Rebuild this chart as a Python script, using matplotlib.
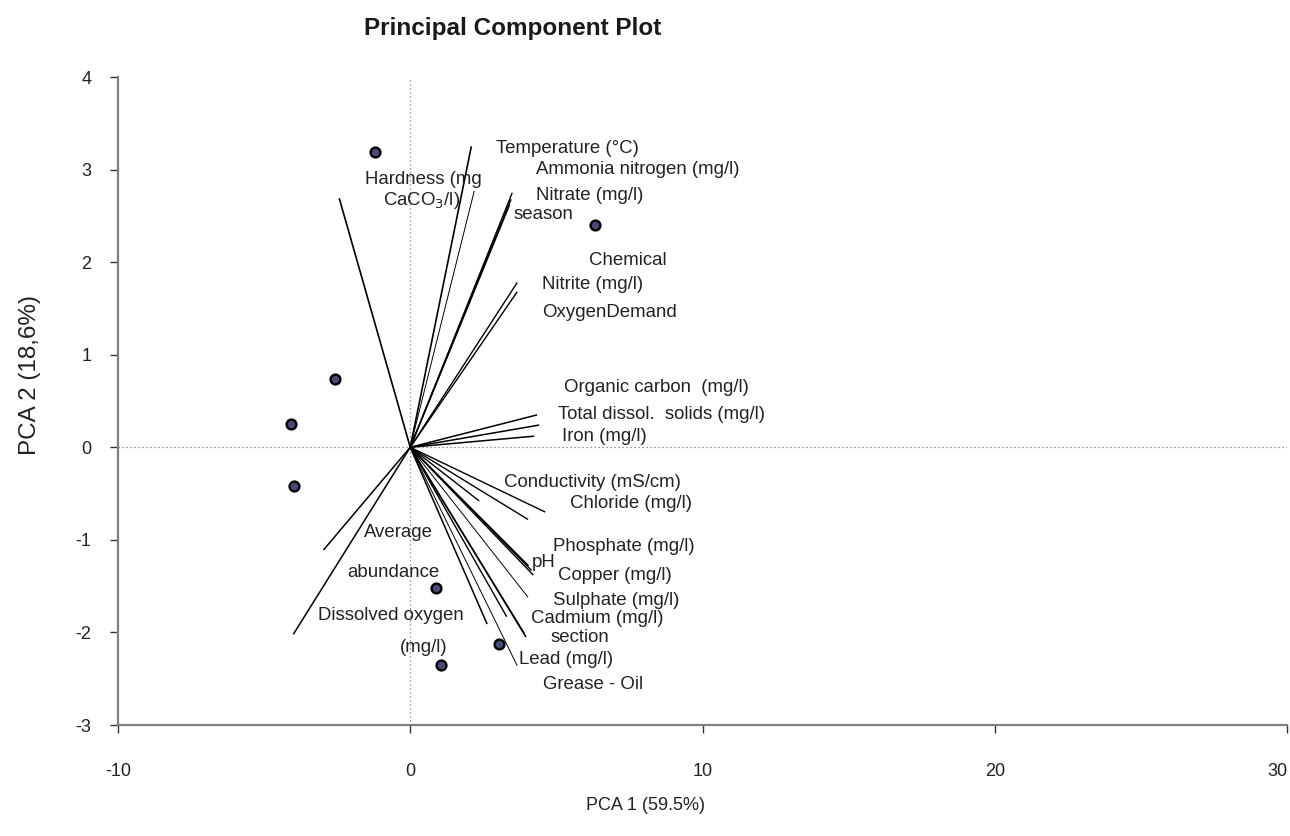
import matplotlib
matplotlib.use("Agg")
import matplotlib.pyplot as plt

plt.rcParams['font.family'] = ['Liberation Sans', 'DejaVu Sans']
plt.rcParams['axes.unicode_minus'] = False

# Loading vectors (end points, origin at 0,0)
load_x = [2.09, 2.19, -2.43, 3.49, 3.45, 3.40, 3.66, 3.66, 4.34, 4.41, 4.24,
          2.36, 4.62, 4.03, 4.05, 4.15, 4.21, 4.03, 3.30, 2.63, 3.90, 3.96,
          3.66, -2.97, -4.00]
load_y = [3.25, 2.77, 2.69, 2.75, 2.68, 2.62, 1.78, 1.68, 0.35, 0.24, 0.12,
          -0.58, -0.70, -0.78, -1.28, -1.33, -1.38, -1.62, -1.83, -1.91, -2.01,
          -2.05, -2.36, -1.11, -2.02]
load_w = [1.2, 0.7, 1.2, 1.0, 1.0, 1.0, 1.0, 1.0, 1.1, 1.1, 1.1,
          1.0, 1.0, 1.0, 1.0, 1.0, 1.0, 0.7, 1.0, 1.1, 1.0, 1.1,
          0.7, 1.1, 1.1]

# Sample scores
score_x = [-1.20, 6.32, -2.56, -4.07, -3.97, 0.89, 3.04, 1.06]
score_y = [3.19, 2.40, 0.735, 0.25, -0.42, -1.52, -2.12, -2.35]

# Variable labels and positions
labels = ["Temperature (°C)", "Ammonia nitrogen (mg/l)", "Nitrate (mg/l)", "season",
          "Hardness (mg", "CaCO$_3$/l)", "Chemical", "Nitrite (mg/l)", "OxygenDemand",
          "Organic carbon  (mg/l)", "Total dissol.  solids (mg/l)", "Iron (mg/l)",
          "Conductivity (mS/cm)", "Chloride (mg/l)", "Average", "Phosphate (mg/l)", "pH",
          "Copper (mg/l)", "abundance", "Sulphate (mg/l)", "Dissolved oxygen",
          "Cadmium (mg/l)", "section", "(mg/l)", "Lead (mg/l)", "Grease - Oil"]
label_x = [2.94, 4.31, 4.31, 3.52, -1.54, -0.92, 6.12, 4.51, 4.51, 5.26, 5.06, 5.20,
           3.21, 5.47, -1.57, 4.89, 4.17, 5.06, -2.15, 4.89, -3.15, 4.14, 4.79, -0.34,
           3.73, 4.55]
label_y = [3.23, 3.00, 2.72, 2.51, 2.89, 2.67, 2.02, 1.76, 1.46, 0.65, 0.35, 0.12,
           -0.38, -0.61, -0.92, -1.07, -1.24, -1.39, -1.35, -1.65, -1.82, -1.85, -2.06,
           -2.16, -2.29, -2.56]

fig = plt.figure(figsize=(12.9, 8.36), dpi=100)
ax = fig.add_axes([118/1290, 1 - 725/836, (1287-118)/1290, (725-77)/836])

ax.axvline(0, color='#777777', lw=0.9, ls=(0, (1, 2.2)), zorder=1)
ax.axhline(0, color='#777777', lw=0.9, ls=(0, (1, 2.2)), zorder=1)

for x, y, w in zip(load_x, load_y, load_w):
    ax.plot([0, x], [0, y], color='black', lw=w, solid_capstyle='butt', zorder=2)

ax.scatter(score_x, score_y, s=50, facecolor='#4a4a78', edgecolor='black',
           linewidth=1.7, zorder=3)

for t, x, y in zip(labels, label_x, label_y):
    ax.text(x, y, t, fontsize=13.4, ha='left', va='center', color='#222222', zorder=4)

ax.set_xlim(-10, 30)
ax.set_ylim(-3, 4)
ax.set_xticks([-10, 0, 10, 20, 30])
ax.set_yticks([-3, -2, -1, 0, 1, 2, 3, 4])
for s in ['top', 'right']:
    ax.spines[s].set_visible(False)
for s in ['left', 'bottom']:
    ax.spines[s].set_color('#808080')
    ax.spines[s].set_linewidth(1.6)
ax.tick_params(axis='x', direction='out', length=6, width=1, color='#333333',
               pad=21, labelsize=13, labelcolor='#222222')
ax.tick_params(axis='y', direction='out', length=6, width=1, color='#333333',
               pad=13, labelsize=13, labelcolor='#222222')
for lab in ax.get_xticklabels():
    if lab.get_text() == '30':
        lab.set_ha('right')

fig.text(513/1290, 1 - 28/836, "Principal Component Plot", fontsize=17.5,
         fontweight='bold', ha='center', va='center', color='#1a1a1a')
fig.text(645/1290, 1 - 805/836, "PCA 1 (59.5%)", fontsize=13, ha='center',
         va='center', color='#222222')
fig.text(30/1290, 1 - 375/836, "PCA 2 (18,6%)", fontsize=17.5, rotation=90,
         ha='center', va='center', color='#222222')

fig.savefig("out.png", dpi=100)
